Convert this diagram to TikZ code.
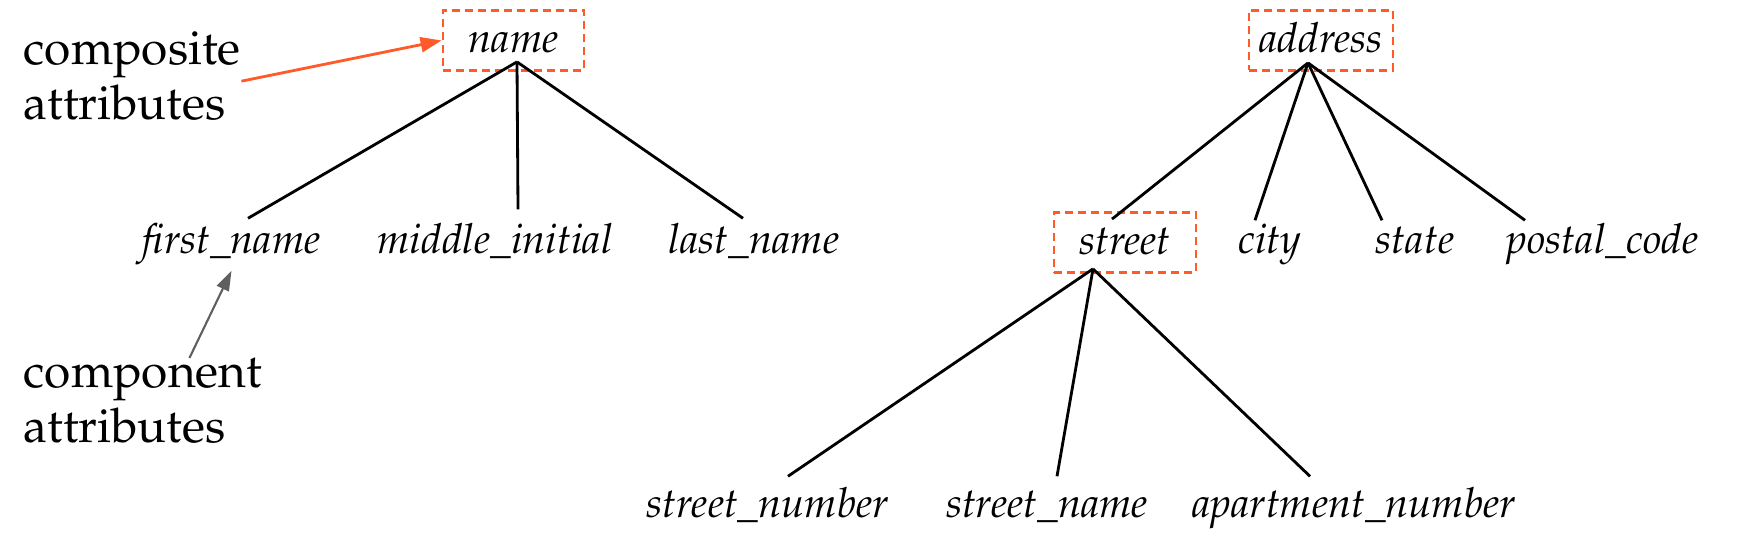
\documentclass[tikz,border=0pt]{standalone}
\usepackage[T1]{fontenc}
\usepackage{mathpazo}
\usepackage{tikz}
\usetikzlibrary{shapes,arrows,arrows.meta}
\definecolor{attrorange}{HTML}{FF5A2A}
\definecolor{notegray}{HTML}{5F5F5F}
\tikzstyle{attr} = [inner sep=0pt, text height=0.35cm, text depth=0.1cm, font=\fontsize{11.8}{14}\selectfont\itshape]
\tikzstyle{compbox} = [attr, draw=attrorange, line width=0.8pt, dash pattern=on 0.08cm off 0.05cm, minimum height=0.6cm]
\tikzstyle{note} = [inner sep=0pt, align=left, font=\fontsize{13.6}{15.6}\selectfont]
\tikzstyle{edge} = [draw=black, line width=0.8pt]

\begin{document}
\begin{tikzpicture}
\useasboundingbox (0,0) rectangle (17.46,-5.58);
% composite attributes (dashed boxes)
\node [compbox, minimum width=1.41cm] (name) at (5.135,-0.405) {name};
\node [compbox, minimum width=1.44cm] (address) at (13.21,-0.405) {address};
\node [compbox, minimum width=1.42cm] (street) at (11.25,-2.425) {street};
% component attributes
\node [attr] (first) at (2.315,-2.415) {first\_name};
\node [attr] (middle) at (4.95,-2.415) {middle\_initial};
\node [attr] (last) at (7.54,-2.415) {last\_name};
\node [attr] (city) at (12.70,-2.415) {city};
\node [attr] (state) at (14.15,-2.415) {state};
\node [attr] (postal) at (16.025,-2.415) {postal\_code};
\node [attr] (stnumber) at (7.675,-5.055) {street\_number};
\node [attr] (stname) at (10.47,-5.055) {street\_name};
\node [attr] (apartment) at (13.54,-5.055) {apartment\_number};
% notes on the left
\node [note, anchor=north west] (composite) at (0.23,-0.31) {composite\\attributes};
\node [note, anchor=north west] (component) at (0.23,-3.58) {component\\attributes};

% where the tree lines meet
\coordinate (nametip) at ([xshift=0.035cm,yshift=0.1cm]name.south);
\coordinate (addresstip) at ([xshift=-0.13cm,yshift=0.09cm]address.south);
\coordinate (streettip) at ([xshift=-0.32cm,yshift=0.05cm]street.south);

\draw [edge] (nametip) -- ([xshift=0.165cm]first.north);
\draw [edge] (nametip) -- ([xshift=0.23cm,yshift=0.09cm]middle.north);
\draw [edge] (nametip) -- ([xshift=-0.11cm]last.north);
\draw [edge] (addresstip) -- ([xshift=-0.13cm,yshift=-0.08cm]street.north);
\draw [edge] (addresstip) -- ([xshift=-0.15cm,yshift=-0.02cm]city.north);
\draw [edge] (addresstip) -- ([xshift=-0.33cm,yshift=-0.02cm]state.north);
\draw [edge] (addresstip) -- ([xshift=-0.775cm,yshift=-0.02cm]postal.north);
\draw [edge] (streettip) -- ([xshift=0.205cm,yshift=0.06cm]stnumber.north);
\draw [edge] (streettip) -- ([xshift=0.10cm,yshift=0.06cm]stname.north);
\draw [edge] (streettip) -- ([xshift=-0.44cm,yshift=0.06cm]apartment.north);

% pointers from the notes
\draw [attrorange, line width=0.8pt, -{Triangle[length=0.21cm,width=0.15cm]}] ([yshift=-0.05cm]composite.east) -- (name.west);
\draw [notegray, line width=0.6pt, -{Triangle[length=0.2cm,width=0.13cm]}] ([xshift=0.465cm]component.north) -- ([yshift=-0.06cm]first.south);
\end{tikzpicture}
\end{document}
